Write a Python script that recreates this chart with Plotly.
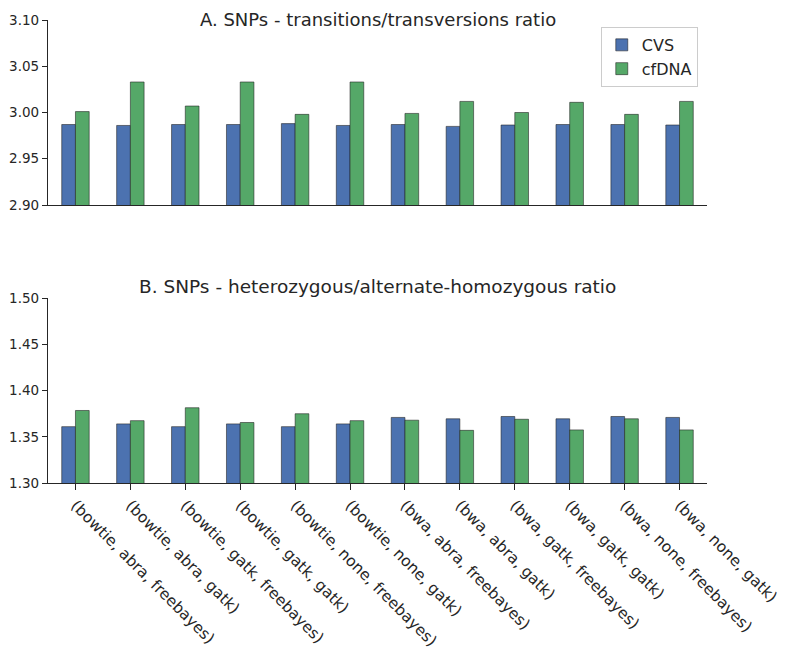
import plotly.graph_objects as go

categories = [
    "(bowtie, abra, freebayes)", "(bowtie, abra, gatk)", "(bowtie, gatk, freebayes)",
    "(bowtie, gatk, gatk)", "(bowtie, none, freebayes)", "(bowtie, none, gatk)",
    "(bwa, abra, freebayes)", "(bwa, abra, gatk)", "(bwa, gatk, freebayes)",
    "(bwa, gatk, gatk)", "(bwa, none, freebayes)", "(bwa, none, gatk)",
]
titv_cvs = [2.987, 2.986, 2.987, 2.987, 2.988, 2.986, 2.987, 2.985, 2.9865, 2.987, 2.987, 2.9865]
titv_cfdna = [3.001, 3.033, 3.007, 3.033, 2.998, 3.033, 2.999, 3.012, 3.000, 3.011, 2.998, 3.012]
hethom_cvs = [1.361, 1.364, 1.361, 1.364, 1.361, 1.364, 1.371, 1.3695, 1.372, 1.3695, 1.372, 1.371]
hethom_cfdna = [1.3785, 1.3675, 1.3815, 1.3655, 1.375, 1.3675, 1.368, 1.357, 1.369, 1.3575, 1.3695, 1.3575]
series_names = ["CVS", "cfDNA"]
titles = ["A. SNPs - transitions/transversions ratio",
          "B. SNPs - heterozygous/alternate-homozygous ratio"]

BLUE = "#4C72B0"
GREEN = "#55A868"
TXT = "#262626"
FONT = "DejaVu Sans"
edge = dict(color="rgba(30,30,30,0.7)", width=0.8)

fig = go.Figure()
fig.add_trace(go.Bar(x=categories, y=titv_cvs, name=series_names[0], marker=dict(color=BLUE, line=edge),
                     xaxis="x", yaxis="y"))
fig.add_trace(go.Bar(x=categories, y=titv_cfdna, name=series_names[1], marker=dict(color=GREEN, line=edge),
                     xaxis="x", yaxis="y"))
fig.add_trace(go.Bar(x=categories, y=hethom_cvs, name=series_names[0], marker=dict(color=BLUE, line=edge),
                     xaxis="x2", yaxis="y2", showlegend=False))
fig.add_trace(go.Bar(x=categories, y=hethom_cfdna, name=series_names[1], marker=dict(color=GREEN, line=edge),
                     xaxis="x2", yaxis="y2", showlegend=False))

axis_common = dict(showline=True, linecolor=TXT, linewidth=1.3, showgrid=False, zeroline=False,
                   automargin=False,
                   tickfont=dict(family=FONT, size=15.5, color=TXT), ticklen=6, tickcolor=TXT, tickwidth=1)
ytick_font = dict(family=FONT, size=13.5, color=TXT)

fig.update_layout(
    width=779, height=642,
    margin=dict(l=40, r=80, t=12, b=167),
    paper_bgcolor="white", plot_bgcolor="white",
    barmode="group", bargap=0.5, bargroupgap=0,
    font=dict(family=FONT, color=TXT),
    xaxis=dict(axis_common, domain=[0, 1], anchor="y", showticklabels=False, ticks="",
               range=[-0.5, 11.5]),
    yaxis=dict(axis_common, domain=[0.6004, 1], anchor="x", range=[2.90, 3.10], dtick=0.05,
               tickformat=".2f", ticks="outside", ticklen=5, ticklabelstandoff=0, tickfont=ytick_font),
    xaxis2=dict(axis_common, domain=[0, 1], anchor="y2", ticks="outside", tickangle=45,
                range=[-0.5, 11.5]),
    yaxis2=dict(axis_common, domain=[0, 0.399], anchor="x2", range=[1.30, 1.50], dtick=0.05,
                tickformat=".2f", ticks="outside", ticklen=5, ticklabelstandoff=0, tickfont=ytick_font),
    legend=dict(x=0.986, y=0.985, xanchor="right", yanchor="top", bgcolor="white",
                bordercolor="#cccccc", borderwidth=1, tracegroupgap=2,
                font=dict(family=FONT, size=16, color=TXT)),
    annotations=[
        dict(text=titles[0], xref="paper", yref="paper", x=0.5, y=1.0, yshift=1,
             xanchor="center", yanchor="middle", showarrow=False,
             font=dict(family=FONT, size=18, color=TXT)),
        dict(text=titles[1], xref="paper", yref="paper", x=0.5, y=0.399, yshift=12,
             xanchor="center", yanchor="middle", showarrow=False,
             font=dict(family=FONT, size=18.5, color=TXT)),
    ],
)

fig.write_html("out.html")
